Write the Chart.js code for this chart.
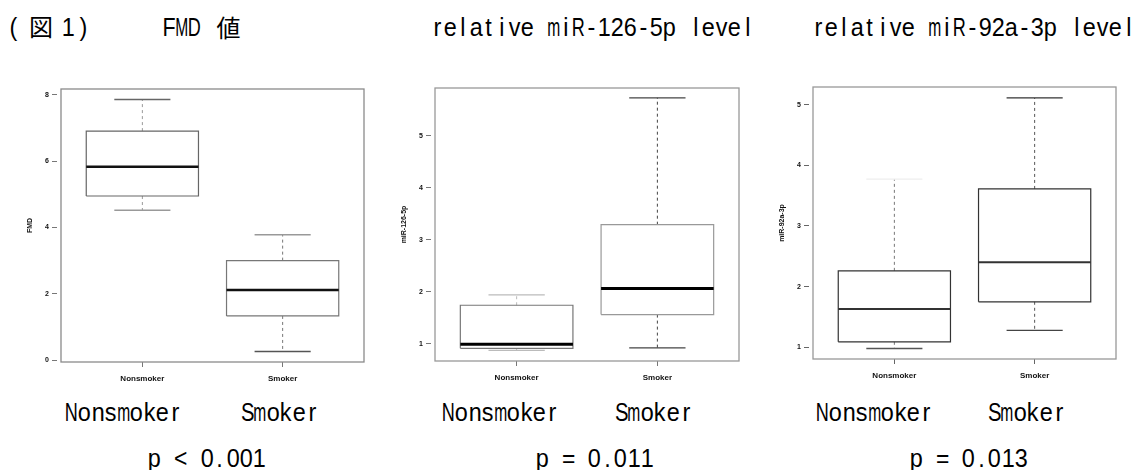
<!DOCTYPE html>
<html><head><meta charset="utf-8">
<script src="https://cdn.jsdelivr.net/npm/chart.js@4.4.1/dist/chart.umd.min.js"></script>
<style>
html,body{margin:0;padding:0;background:#fff;width:1134px;height:470px;overflow:hidden;position:relative}
canvas{position:absolute}
.t{position:absolute;white-space:nowrap;line-height:1;color:#000}
.g{font-family:"Liberation Sans",Arial,sans-serif}
.j{font-family:"Noto Sans CJK JP",sans-serif;font-size:24px;transform:translateX(-50%)}
</style></head><body>
<canvas id="c1" width="357" height="330" style="left:11px;top:60px"></canvas>
<canvas id="c2" width="358" height="330" style="left:385px;top:60px"></canvas>
<canvas id="c3" width="357" height="330" style="left:763px;top:60px"></canvas>
<script>
// ---- data ----
const categories = ['Nonsmoker', 'Smoker'];

const fmdMin    = [4.52, 0.26];
const fmdQ1     = [4.95, 1.33];
const fmdMedian = [5.83, 2.11];
const fmdQ3     = [6.91, 3.00];
const fmdMax    = [7.86, 3.78];
const fmdTicks  = [0, 2, 4, 6, 8];
const fmdRange  = [-0.06, 8.18];

const mir126Min    = [0.87, 0.92];
const mir126Q1     = [0.91, 1.56];
const mir126Median = [0.99, 2.06];
const mir126Q3     = [1.74, 3.29];
const mir126Max    = [1.94, 5.73];
const mir126Ticks  = [1, 2, 3, 4, 5];
const mir126Range  = [0.667, 5.92];

const mir92aMin    = [0.98, 1.28];
const mir92aQ1     = [1.09, 1.75];
const mir92aMedian = [1.63, 2.40];
const mir92aQ3     = [2.26, 3.61];
const mir92aMax    = [3.77, 5.11];
const mir92aTicks  = [1, 2, 3, 4, 5];
const mir92aRange  = [0.807, 5.29];

const pValues = ['p < 0.001', 'p = 0.011', 'p = 0.013'];
const panelTitles = ['relative miR-126-5p level', 'relative miR-92a-3p level'];

// ---- drawing ----
const FONT = 'Liberation Sans';
function seg(x1, y1, x2, y2, color, width, dash) {
  return {data: [{x: x1, y: y1}, {x: x2, y: y2}], borderColor: color, borderWidth: width,
    borderDash: dash || [], showLine: true, pointRadius: 0, fill: false, tension: 0, borderCapStyle: 'butt'};
}
const framePlugin = color => ({
  id: 'frame',
  afterDatasetsDraw(chart) {
    const {ctx, chartArea: a} = chart;
    ctx.save(); ctx.strokeStyle = color; ctx.lineWidth = 1.3;
    ctx.strokeRect(a.left, a.top, a.right - a.left, a.bottom - a.top);
    ctx.restore();
  }
});

function makeChart(id, yTitle, mins, q1s, meds, q3s, maxs, ticks, range, st, geo) {
  const ds = [];
  categories.forEach((c, i) => {
    const x = i + 1, hw = 0.4, cw = 0.2;
    ds.push(seg(x - hw, meds[i], x + hw, meds[i], st.median, st.medW));
    ds.push({data: [{x: x - hw, y: q1s[i]}, {x: x + hw, y: q1s[i]}, {x: x + hw, y: q3s[i]}, {x: x - hw, y: q3s[i]}, {x: x - hw, y: q1s[i]}],
      borderColor: st.box[i], borderWidth: 1.2, showLine: true, pointRadius: 0, fill: false, tension: 0});
    ds.push(seg(x - cw, maxs[i], x + cw, maxs[i], st.capTop[i], st.capW));
    ds.push(seg(x - cw, mins[i], x + cw, mins[i], st.capBot[i], st.capW));
    ds.push(seg(x, q3s[i], x, maxs[i], st.whisker[i], 1, [3, 3]));
    ds.push(seg(x, q1s[i], x, mins[i], st.whisker[i], 1, [3, 3]));
  });
  new Chart(document.getElementById(id), {
    type: 'scatter',
    data: {datasets: ds},
    options: {
      responsive: false, animation: false, events: [],
      layout: {padding: {top: geo.padTop, right: 4, left: 0, bottom: 0}},
      plugins: {legend: {display: false}, tooltip: {enabled: false}},
      scales: {
        x: {
          type: 'linear', min: 0.42, max: 2.58, bounds: 'data',
          afterBuildTicks: s => { s.ticks = categories.map((c, i) => ({value: i + 1})); },
          afterFit: s => { s.height = geo.xH; },
          ticks: {callback: v => categories[Math.round(v) - 1], font: {family: FONT, size: 8, weight: 'bold'},
            color: '#111', padding: 7, maxRotation: 0, autoSkip: false},
          grid: {drawOnChartArea: false, drawTicks: true, tickLength: 5, color: st.tick, tickWidth: 1},
          border: {display: false}
        },
        y: {
          type: 'linear', min: range[0], max: range[1], bounds: 'data',
          afterBuildTicks: s => { s.ticks = ticks.map(v => ({value: v})); },
          afterFit: s => { s.width = 50; },
          ticks: {callback: v => String(v), font: {family: FONT, size: 7, weight: 'bold'}, color: '#111', padding: 3},
          grid: {drawOnChartArea: false, drawTicks: true, tickLength: 9, tickBorderDash: [5, 4], color: st.tick, tickWidth: 1},
          border: {display: false},
          title: {display: true, text: yTitle, font: {family: FONT, size: 7, weight: 'bold'}, color: '#111', padding: {top: 14.8, bottom: 0}}
        }
      }
    },
    plugins: [framePlugin(st.frame)]
  });
}

makeChart('c1', 'FMD', fmdMin, fmdQ1, fmdMedian, fmdQ3, fmdMax, fmdTicks, fmdRange,
  {frame: '#8a8a8a', tick: '#777', box: ['#666', '#777'], median: '#111', medW: 2.5,
   whisker: ['#999', '#777'], capTop: ['#666', '#999'], capBot: ['#999', '#555'], capW: 1.5},
  {padTop: 29, xH: 28});
makeChart('c2', 'miR-126-5p', mir126Min, mir126Q1, mir126Median, mir126Q3, mir126Max, mir126Ticks, mir126Range,
  {frame: '#999', tick: '#777', box: ['#777', '#999'], median: '#000', medW: 3,
   whisker: ['#bbb', '#444'], capTop: ['#bbb', '#444'], capBot: ['#bbb', '#444'], capW: 1.3},
  {padTop: 28, xH: 29});
makeChart('c3', 'miR-92a-3p', mir92aMin, mir92aQ1, mir92aMedian, mir92aQ3, mir92aMax, mir92aTicks, mir92aRange,
  {frame: '#999', tick: '#666', box: ['#333', '#333'], median: '#333', medW: 2,
   whisker: ['#777', '#555'], capTop: ['#eee', '#333'], capBot: ['#555', '#444'], capW: 1.3},
  {padTop: 27, xH: 31});

// ---- HTML texts (half-width cells, like a Japanese gothic font) ----
function baselineOf(d) {
  const m = document.createElement('span');
  m.style.cssText = 'display:inline-block;width:0;height:0;vertical-align:baseline';
  d.appendChild(m);
  const bl = m.offsetTop;
  d.removeChild(m);
  return bl;
}
function placeMono(text, cx, base, o) {
  o = Object.assign({cell: 12.8, maxW: 13.2, sx: 0.9, size: 26}, o || {});
  const d = document.createElement('div');
  d.className = 't g';
  d.style.fontSize = o.size + 'px';
  document.body.appendChild(d);
  const spans = [];
  for (const ch of text) {
    const s = document.createElement('span');
    s.style.display = 'inline-block';
    s.style.whiteSpace = 'pre';
    s.style.transformOrigin = '50% 50%';
    s.textContent = ch;
    d.appendChild(s);
    spans.push(s);
  }
  let total = 0;
  spans.forEach(s => {
    const w = s.offsetWidth;
    const k = Math.min(o.sx, o.maxW / Math.max(w, 0.01));
    const m = (o.cell - w) / 2;
    s.style.marginLeft = m + 'px';
    s.style.marginRight = m + 'px';
    s.style.transform = 'scaleX(' + k + ')';
    total += o.cell;
  });
  d.style.top = (base - baselineOf(d)) + 'px';
  d.style.left = (cx - total / 2) + 'px';
}
function placeCJK(text, cx, base) {
  const d = document.createElement('div');
  d.className = 't j';
  d.textContent = text;
  document.body.appendChild(d);
  d.style.top = (base - baselineOf(d)) + 'px';
  d.style.left = cx + 'px';
}
placeMono('(', 13.5, 36);
placeCJK('図', 41, 36);
placeMono('1', 67.5, 36);
placeMono(')', 84, 36);
placeMono('FMD', 182, 36);
placeCJK('値', 228.5, 37);
placeMono(panelTitles[0], 591, 36);
placeMono(panelTitles[1], 972, 36);
const labelCenters = [[123, 279], [500, 653], [874, 1026]];
labelCenters.forEach(pair => pair.forEach((cx, i) => placeMono(categories[i], cx, 420.7)));
[205.5, 593, 967].forEach((cx, i) => placeMono(pValues[i], cx, 467));
</script>
</body></html>
